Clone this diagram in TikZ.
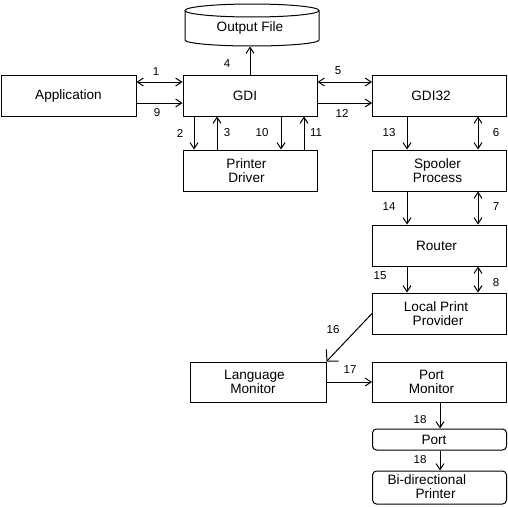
\documentclass[tikz,border=0pt]{standalone}
\usepackage{fontspec}
\setmainfont{Liberation Sans}
\usetikzlibrary{arrows.meta}
\newcommand{\lft}[2]{#2\hspace*{#1}}
\begin{document}
\begin{tikzpicture}[x=1pt,y=-1pt, line width=1pt,
  >={Straight Barb[length=6pt,width=8pt]},
  box/.style={draw, minimum width=134pt, minimum height=41pt, inner sep=0pt, align=center,
    font=\fontsize{13.6}{14}\selectfont},
  txt/.style={inner sep=0pt, align=center, font=\fontsize{13.6}{14}\selectfont},
  num/.style={inner sep=0pt, font=\fontsize{11.5}{12}\selectfont}]
\useasboundingbox[fill=white] (0,0) rectangle (508,506);

% cylinder
\draw (252,10.5) ellipse [x radius=67pt, y radius=6.5pt];
\draw (185,10.5) -- (185,40) arc[start angle=180, end angle=360, x radius=67pt, y radius=6pt] -- (319,10.5);
\node[txt] (of) at (250,28) {Output File};
\coordinate (ofb) at (250,46.5);

% boxes
\node[box, minimum width=135pt] (app) at (68.5,95.5) {Application};
\node[box] (gdi) at (250,95.5) {\lft{10pt}{GDI}};
\node[box] (gdi32) at (439.5,95.5) {\lft{17pt}{GDI32}};
\node[box] (pd) at (250,170.5) {\lft{7pt}{Printer}\\\lft{7pt}{Driver}};
\node[box] (sp) at (439.5,170.5) {\lft{4pt}{Spooler}\\\lft{4pt}{Process}};
\node[box] (rt) at (439.5,245.5) {\lft{6pt}{Router}};
\node[box] (lpp) at (439.5,313.5) {\lft{7pt}{Local Print}\\\lft{3pt}{Provider}};
\node[box, minimum width=136pt, minimum height=40pt] (lm) at (258,382) {\lft{7pt}{Language}\\\lft{10pt}{Monitor}};
\node[box, minimum height=40pt] (pm) at (439.5,382) {\lft{16pt}{Port}\\\lft{16pt}{Monitor}};
\node[box, minimum height=21pt, rounded corners=4pt] (port) at (439.5,439.5) {\lft{11pt}{Port}};
\node[box, minimum height=33pt, rounded corners=4pt] (bp) at (439.5,487.5) {};
\node[txt, align=left, anchor=west] (bpt) at (387,487) {Bi-directional\\\hspace*{28pt}Printer};

% connectors
\draw[<->] (app.east |- 0,82) -- (gdi.west |- 0,82);
\draw[->] (app.east |- 0,103) -- (gdi.west |- 0,103);
\draw[->] (gdi.south -| 194,0) -- (pd.north -| 194,0);
\draw[->] (pd.north -| 217,0) -- (gdi.south -| 217,0);
\draw[->] (gdi.south -| 281,0) -- (pd.north -| 281,0);
\draw[->] (pd.north -| 304,0) -- (gdi.south -| 304,0);
\draw[->] (gdi.north) -- (ofb);
\draw[<->] (gdi.east |- 0,82) -- (gdi32.west |- 0,82);
\draw[->] (gdi.east |- 0,103) -- (gdi32.west |- 0,103);
\draw[->] (gdi32.south -| 407,0) -- (sp.north -| 407,0);
\draw[<->] (gdi32.south -| 478,0) -- (sp.north -| 478,0);
\draw[->] (sp.south -| 407,0) -- (rt.north -| 407,0);
\draw[<->] (sp.south -| 478,0) -- (rt.north -| 478,0);
\draw[->] (rt.south -| 407,0) -- (lpp.north -| 407,0);
\draw[<->] (rt.south -| 478,0) -- (lpp.north -| 478,0);
\draw[-{Straight Barb[length=8pt,width=17pt]}] (lpp.west) -- (lm.north east);
\draw[->] (lm.east) -- (pm.west);
\draw[->] (pm.south -| 440,0) -- (port.north -| 440,0);
\draw[->] (port.south -| 440,0) -- (bp.north -| 440,0);

% labels
\node[num] (l1) at (156,72) {1};
\node[num] (l9) at (157,113) {9};
\node[num] (l2) at (180,133) {2};
\node[num] (l3) at (227,133) {3};
\node[num] (l10) at (262,133) {10};
\node[num] (l11) at (316,133) {11};
\node[num] (l4) at (227,64) {4};
\node[num] (l5) at (338,71) {5};
\node[num] (l12) at (342,113) {12};
\node[num] (l13) at (389,133) {13};
\node[num] (l6) at (496,133) {6};
\node[num] (l14) at (389,207) {14};
\node[num] (l7) at (496,207) {7};
\node[num] (l15) at (380,276) {15};
\node[num] (l8) at (496,283) {8};
\node[num] (l16) at (333,330) {16};
\node[num] (l17) at (350,370) {17};
\node[num] (l18a) at (420,420) {18};
\node[num] (l18b) at (420,460) {18};
\end{tikzpicture}
\end{document}
